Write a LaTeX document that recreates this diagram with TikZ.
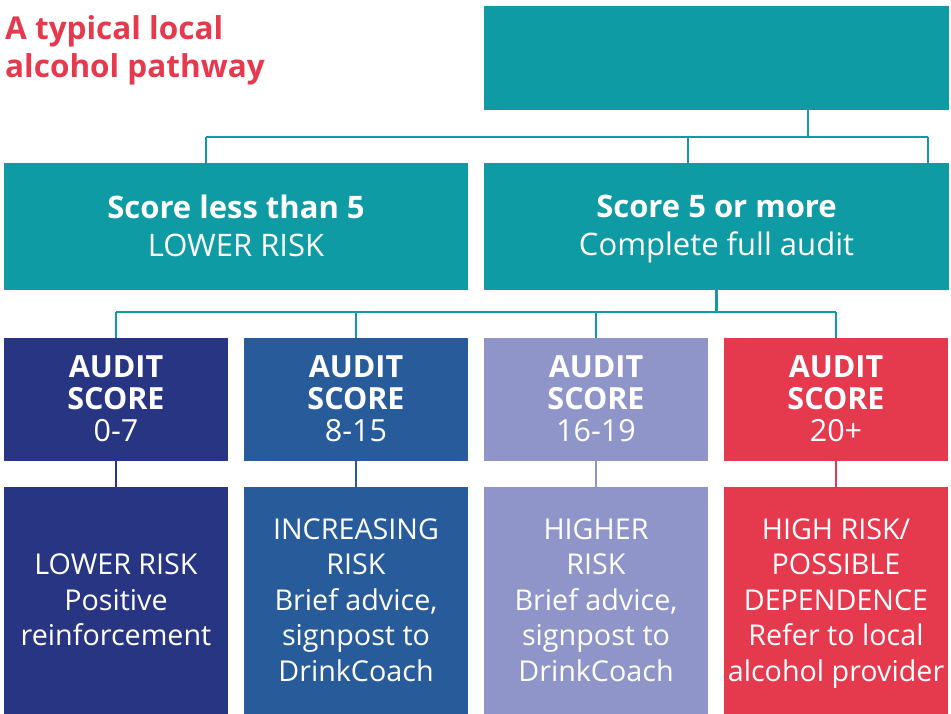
\documentclass[tikz,border=0pt]{standalone}
\usepackage{fontspec}
\setmainfont{Open Sans}
\definecolor{pwteal}{HTML}{0F9BA3}
\definecolor{pwnavy}{HTML}{283583}
\definecolor{pwblue}{HTML}{285B9A}
\definecolor{pwlilac}{HTML}{8F95C8}
\definecolor{pwred}{HTML}{E5394E}
% line strut: tall above the first line, shallow below the last
\newcommand{\boxstrut}{\rule[-0.05\baselineskip]{0pt}{\baselineskip}}
% a line whose descenders do not count for vertical centring
\newcommand{\flatline}[1]{\raisebox{0pt}[\height][0pt]{#1}}
\begin{document}
\begin{tikzpicture}[x=1pt,y=-1pt,
  box/.style={rectangle, inner sep=0pt, text=white, align=center,
    execute at begin node=\boxstrut, execute at end node=\boxstrut,
    font=\fontsize{28}{35}\selectfont},
  wide/.style={box, fill=pwteal, minimum width=465pt, minimum height=127pt,
    font=\fontsize{31}{38}\selectfont},
  scorebox/.style={box, fill=#1, minimum width=224pt, minimum height=123pt,
    font=\fontsize{30.5}{32}\selectfont},
  riskbox/.style={box, fill=#1, minimum width=224pt, minimum height=227pt,
    font=\fontsize{28.7}{35.5}\selectfont},
  bus/.style={draw=pwteal, line width=2.6pt},
  stem/.style={draw=#1, line width=2.6pt},
  titletext/.style={anchor=base west, inner sep=0pt, text=pwred,
    font=\fontsize{31.5}{38}\selectfont\bfseries}]
\useasboundingbox (0,0) rectangle (951,714);

% title
\node[titletext] (title1) at (5,40) {A typical local};
\node[titletext] (title2) at (5,78) {alcohol pathway};

% first decision
\node[box, fill=pwteal, minimum width=465pt, minimum height=104pt] (top) at (716.5,58) {};
\node[wide, minimum width=464pt] (low) at (236,226.5) {\textbf{Score less than 5}\\LOWER RISK};
\node[wide] (high) at (716.5,226.5) {\textbf{Score 5 or more}\\\flatline{Complete full audit}};

% audit score bands
\node[scorebox=pwnavy]  (s1) at (116,399.5) {\textbf{AUDIT}\\\textbf{SCORE}\\0-7};
\node[scorebox=pwblue]  (s2) at (356,399.5) {\textbf{AUDIT}\\\textbf{SCORE}\\8-15};
\node[scorebox=pwlilac] (s3) at (596,399.5) {\textbf{AUDIT}\\\textbf{SCORE}\\16-19};
\node[scorebox=pwred]   (s4) at (836,399.5) {\textbf{AUDIT}\\\textbf{SCORE}\\20+};

% outcomes
\node[riskbox=pwnavy]  (r1) at (116,600.5) {LOWER RISK\\Positive\\reinforcement};
\node[riskbox=pwblue]  (r2) at (356,600.5) {INCREASING\\RISK\\Brief advice,\\signpost to\\DrinkCoach};
\node[riskbox=pwlilac] (r3) at (596,600.5) {HIGHER\\RISK\\Brief advice,\\signpost to\\DrinkCoach};
\node[riskbox=pwred]   (r4) at (836,600.5) {HIGH RISK/\\POSSIBLE\\DEPENDENCE\\Refer to local\\\flatline{alcohol provider}};

% upper bus
\coordinate (j0) at (808,137);
\coordinate (jl) at (206,137);
\coordinate (jm) at (688,137);
\coordinate (jr) at (928,137);
\draw[bus] (top.south -| j0) -- (j0);
\draw[bus] (jl) -- (jr);
\draw[bus] (jl) -- (jl |- low.north);
\draw[bus] (jm) -- (jm |- high.north);
\draw[bus] (jr) -- (jr |- high.north);

% lower bus
\coordinate (k0) at (716.5,312);
\draw[bus] (high.south) -- (k0);
\draw[bus] (s1.north |- k0) -- (s4.north |- k0);
\foreach \s in {s1,s2,s3,s4} \draw[bus] (\s.north |- k0) -- (\s.north);

% score to outcome
\draw[stem=pwnavy]  (s1.south) -- (r1.north);
\draw[stem=pwblue]  (s2.south) -- (r2.north);
\draw[stem=pwlilac] (s3.south) -- (r3.north);
\draw[stem=pwred]   (s4.south) -- (r4.north);
\end{tikzpicture}
\end{document}
